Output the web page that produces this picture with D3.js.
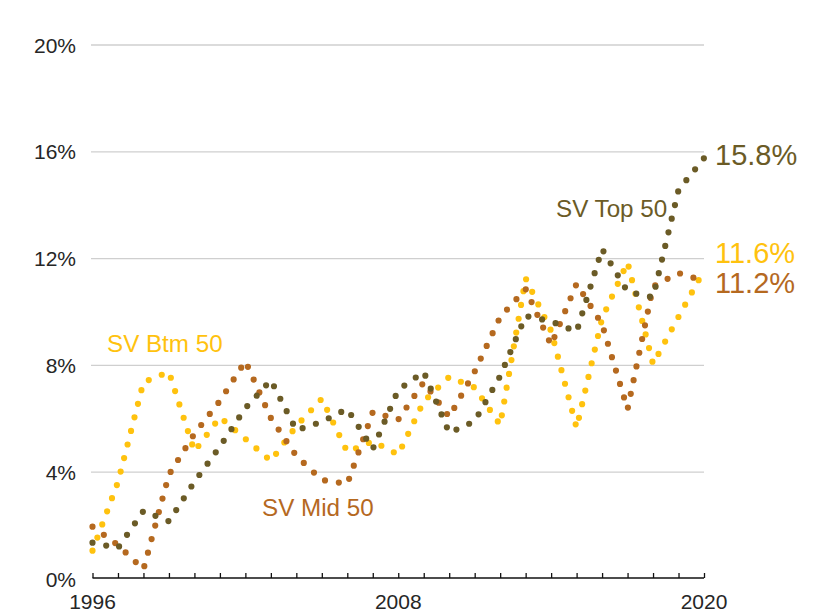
<!DOCTYPE html>
<html>
<head>
<meta charset="utf-8">
<script src="https://cdn.jsdelivr.net/npm/d3@7"></script>
<style>
  html, body { margin: 0; padding: 0; background: #fff; }
  svg { display: block; }
  text { font-family: "Liberation Sans", Arial, Helvetica, sans-serif; }
</style>
</head>
<body>
<svg id="chart" width="828" height="614"></svg>
<script>
// ---- data ----
const years = [1996,1997,1998,1999,2000,2001,2002,2003,2004,2005,2006,2007,2008,
               2009,2010,2011,2012,2013,2014,2015,2016,2017,2018,2019,2020];
const svTop50 = [1.36,1.16,2.55,2.16,3.64,4.96,6.40,7.45,5.57,5.89,6.37,4.87,7.08,
                 7.76,5.47,5.91,7.60,9.85,9.65,9.26,12.36,10.76,10.55,14.57,15.76];
const svMid50 = [1.96,1.27,0.36,3.91,5.44,6.67,8.16,6.03,4.61,3.71,3.56,6.25,5.97,
                 7.37,6.07,7.77,9.81,10.86,8.76,11.06,9.54,6.36,10.95,11.46,11.16];
const svBtm50 = [1.06,3.63,7.37,7.76,4.78,6.06,5.25,4.42,5.73,6.75,4.76,5.16,4.66,
                 6.65,7.57,7.17,5.77,11.26,9.29,5.66,9.76,11.86,8.05,9.82,11.56];
const seriesNames = ["SV Btm 50", "SV Mid 50", "SV Top 50"];
const endLabels = ["11.6%", "11.2%", "15.8%"];
const yTicks = [0, 4, 8, 12, 16, 20];
const xLabelYears = [1996, 2008, 2020];

const colors = { btm: "#FFC20E", mid: "#B5691F", top: "#6B5B26" };

// ---- scales ----
const svg = d3.select("#chart");
const x = d3.scaleLinear().domain([1996, 2020]).range([92.5, 704]);
const y = d3.scaleLinear().domain([0, 20]).range([579, 45]);

// gridlines
svg.append("g").selectAll("line")
  .data(yTicks.filter(d => d > 0))
  .join("line")
  .attr("x1", 91).attr("x2", 704)
  .attr("y1", d => y(d)).attr("y2", d => y(d))
  .attr("stroke", "#cfcfcf").attr("stroke-width", 1.3);

// y labels
svg.append("g").selectAll("text")
  .data(yTicks)
  .join("text")
  .attr("x", 76).attr("y", d => y(d))
  .attr("text-anchor", "end").attr("dominant-baseline", "central")
  .attr("font-size", 21).attr("fill", "#262626")
  .text(d => d + "%");

// x axis
const xAxis = d3.axisBottom(x).tickValues(years).tickSize(-5).tickFormat("");
const gx = svg.append("g").attr("transform", `translate(0,${y(0) - 1})`).call(xAxis);
gx.select(".domain").attr("stroke", "#111").attr("stroke-width", 1.6).attr("d", `M${x(1996)},0H${x(2020)}`);
gx.selectAll(".tick line").attr("stroke", "#111").attr("stroke-width", 1.3);

svg.append("g").selectAll("text")
  .data(xLabelYears)
  .join("text")
  .attr("x", d => x(d)).attr("y", 609)
  .attr("text-anchor", "middle")
  .attr("font-size", 21).attr("fill", "#262626")
  .text(d => d);

// lines
const line = d3.line().x((d, i) => x(years[i])).y(d => y(d)).curve(d3.curveLinear);
const series = [
  { key: "btm", values: svBtm50 },
  { key: "mid", values: svMid50 },
  { key: "top", values: svTop50 }
];
svg.append("g").selectAll("path")
  .data(series)
  .join("path")
  .attr("d", d => line(d.values))
  .attr("fill", "none")
  .attr("stroke", d => colors[d.key])
  .attr("stroke-width", 6.2)
  .attr("stroke-linecap", "round")
  .attr("stroke-dasharray", "0 14");

// series labels
const seriesLabelPos = [
  { key: "btm", x: 107, y: 352 },
  { key: "mid", x: 262, y: 515.5 },
  { key: "top", x: 556, y: 217 }
];
svg.append("g").selectAll("text")
  .data(seriesLabelPos)
  .join("text")
  .attr("x", d => d.x).attr("y", d => d.y)
  .attr("font-size", 24.2)
  .attr("fill", d => colors[d.key])
  .text((d, i) => seriesNames[i]);

// end labels
const endPos = [
  { key: "btm", y: 262.5 },
  { key: "mid", y: 292.5 },
  { key: "top", y: 164.5 }
];
svg.append("g").selectAll("text")
  .data(endPos)
  .join("text")
  .attr("x", 715).attr("y", d => d.y)
  .attr("font-size", 29)
  .attr("fill", d => colors[d.key])
  .text((d, i) => endLabels[i]);
</script>
</body>
</html>
